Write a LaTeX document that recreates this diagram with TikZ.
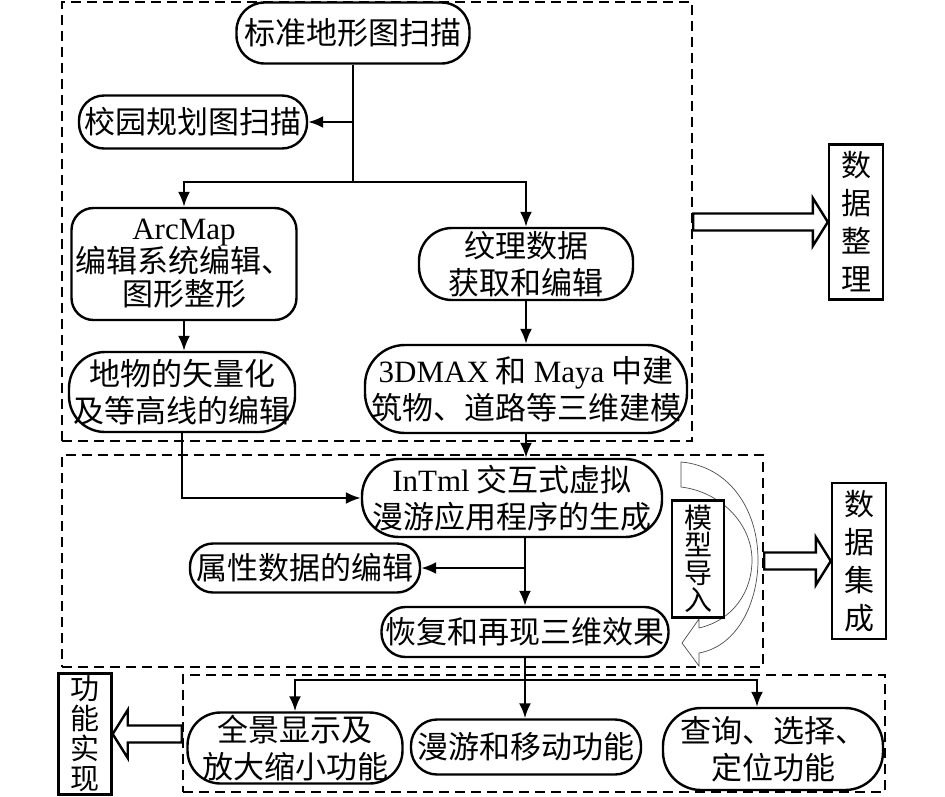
\documentclass[tikz,border=0pt]{standalone}
\usepackage{fontspec}
\setmainfont{Noto Sans CJK SC}
\newfontfamily\lat{Liberation Serif}
\usetikzlibrary{calc,arrows.meta}

% hollow block arrow from a frame side to a box side (horizontal)
\newcommand\fatarrow[2]{%
  \path[fatarrow] let \p1=(#1), \p2=(#2), \n1={sign(\x2-\x1)} in
    (\x1,{\y2+8.5pt}) -- ({\x2-(\n1)*15pt},{\y2+8.5pt}) -- ({\x2-(\n1)*15pt},{\y2+24pt})
    -- (\x2,\y2) -- ({\x2-(\n1)*15pt},{\y2-24pt}) -- ({\x2-(\n1)*15pt},{\y2-8.5pt})
    -- (\x1,{\y2-8.5pt}) -- cycle;}

\begin{document}
\begin{tikzpicture}[
  x=1pt, y=-1pt,
  every node/.style={font=\fontsize{31}{37}\selectfont},
  pill/.style={draw, line width=2.4pt, rounded corners=#1, align=center, inner sep=0pt, fill=white},
  pill/.default=20pt,
  sidebox/.style={draw, line width=2.4pt, align=center, inner sep=0pt, fill=white},
  frame/.style={draw, line width=2.4pt, dash pattern=on 10pt off 6pt, inner sep=0pt},
  flow/.style={draw, line width=2.4pt, -{Latex[length=15pt,width=12pt]}},
  fatarrow/.style={draw, line width=2.4pt, fill=white, line join=miter},
  curvearrow/.style={draw=black!70, line width=0.7pt, fill=white}
]
\useasboundingbox (0,0) rectangle (945,796);

% dashed frames
\node[frame, minimum width=630pt, minimum height=439pt] (stageSort) at (377,221.5) {};
\node[frame, minimum width=701pt, minimum height=212pt] (stageInteg) at (412.5,561) {};
\node[frame, minimum width=702pt, minimum height=117pt] (stageFunc) at (534,733.5) {};

% curved import arrow
\draw[curvearrow] (681,462) -- (681,487)
  .. controls (722,492) and (752,525) .. (752,560)
  .. controls (752,592) and (733,620) .. (699,628)
  -- (699,619) -- (682,643) -- (699,666) -- (699,653)
  .. controls (738,646) and (758,602) .. (758,560)
  .. controls (758,508) and (728,466) .. (681,462) -- cycle;

% data sorting
\node[pill=28pt, minimum width=233pt, minimum height=61pt] (scan) at (353,33) {标准地形图扫描};
\node[pill=25pt, minimum width=228pt, minimum height=53pt] (campus) at (193,122) {校园规划图扫描};
\node[pill=22pt, minimum width=225pt, minimum height=112pt, font=\fontsize{31}{33}\selectfont] (arcmap) at (184,264) {{\lat ArcMap}\\编辑系统编辑、\\图形整形};
\node[pill=33pt, minimum width=214pt, minimum height=72pt] (texture) at (526,264) {纹理数据\\获取和编辑};
\node[pill=36pt, minimum width=226pt, minimum height=80pt] (vector) at (182,392) {地物的矢量化\\及等高线的编辑};
\node[pill=40pt, minimum width=322pt, minimum height=88pt] (model3d) at (526,389) {{\lat 3DMAX} 和 {\lat Maya} 中建\\筑物、道路等三维建模};

% data integration
\node[pill=37pt, minimum width=300pt, minimum height=78pt] (intml) at (512,498) {{\lat InTml} 交互式虚拟\\漫游应用程序的生成};
\node[pill=23pt, minimum width=230pt, minimum height=49pt] (attr) at (305,568) {属性数据的编辑};
\node[pill=24pt, minimum width=287pt, minimum height=50pt] (restore) at (525,632) {恢复和再现三维效果};
\node[sidebox, minimum width=52pt, minimum height=117pt, font=\fontsize{28}{27.5}\selectfont] (import) at (698,559) {模\\型\\导\\入};

% functions
\node[pill=33pt, minimum width=215pt, minimum height=71pt] (pano) at (295,748) {全景显示及\\放大缩小功能};
\node[pill=26pt, minimum width=230pt, minimum height=55pt] (roam) at (526,747) {漫游和移动功能};
\node[pill=38pt, minimum width=220pt, minimum height=82pt] (query) at (773,749) {查询、选择、\\定位功能};

% side labels
\node[sidebox, minimum width=54pt, minimum height=155pt, font=\fontsize{30}{38}\selectfont] (sortLabel) at (856,222) {数\\据\\整\\理};
\node[sidebox, minimum width=54pt, minimum height=156pt, font=\fontsize{30}{38}\selectfont] (integLabel) at (859,561) {数\\据\\集\\成};
\node[sidebox, minimum width=53pt, minimum height=121pt, font=\fontsize{29}{30}\selectfont] (funcLabel) at (85,734) {功\\能\\实\\现};

% connectors
\coordinate (forkTop) at (353,182);
\coordinate (forkBottom) at (525,680);
\draw[line width=2.4pt] (scan.south) -- (forkTop);
\draw[flow] (campus.east -| scan.south) -- (campus.east);
\draw[flow] (forkTop) -| (arcmap.north);
\draw[flow] (forkTop) -| (texture.north);
\draw[flow] (arcmap.south) -- (arcmap.south |- vector.north);
\draw[flow] (texture.south) -- (model3d.north);
\draw[flow] (model3d.south) -- (model3d.south |- intml.north);
\draw[flow] (vector.south) |- (intml.west);
\draw[flow] (restore.north |- intml.south) -- (restore.north);
\draw[flow] (attr.east -| restore.north) -- (attr.east);
\draw[flow] (restore.south) -- (restore.south |- roam.north);
\draw[flow] (forkBottom) -| (pano.north);
\draw[flow] (forkBottom) -| ([xshift=-16pt]query.north);

% block arrows
\fatarrow{stageSort.east}{sortLabel.west}
\fatarrow{stageInteg.east}{integLabel.west}
\fatarrow{stageFunc.west}{funcLabel.east}
\end{tikzpicture}
\end{document}
